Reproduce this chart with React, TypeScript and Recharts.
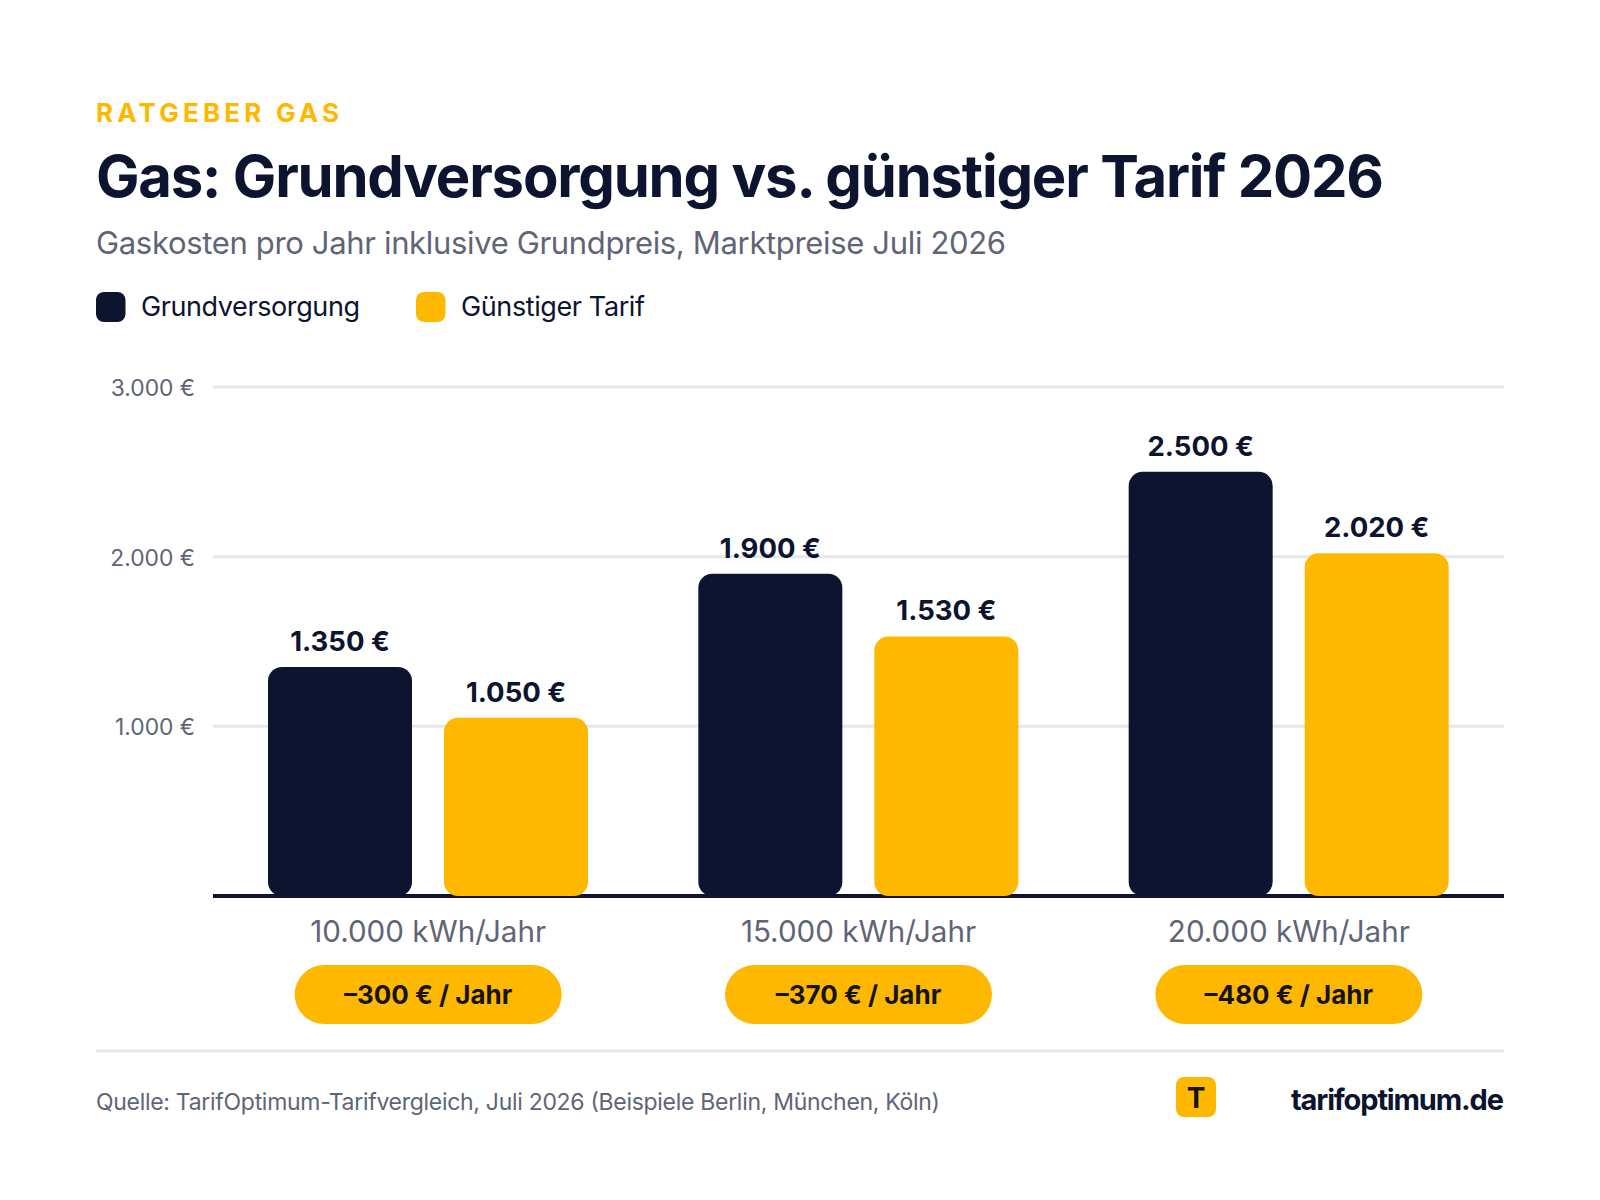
import React from 'react';
import { Bar, BarChart, CartesianGrid, LabelList, XAxis, YAxis } from 'recharts';

const categories = ['10.000 kWh/Jahr', '15.000 kWh/Jahr', '20.000 kWh/Jahr'];
const grundversorgung = [1350, 1900, 2500];
const guenstigerTarif = [1050, 1530, 2020];
const savings = ['–300 € / Jahr', '–370 € / Jahr', '–480 € / Jahr'];
const yTicks = [0, 1000, 2000, 3000];

const NAVY = '#0C1430';
const YELLOW = '#FFB800';
const GRAY = '#5F6577';
const LINE = '#E5E7EB';
const FONT = 'Inter, sans-serif';

const data = categories.map((name, i) => ({
  name,
  grund: grundversorgung[i],
  tarif: guenstigerTarif[i],
}));

const euro = (v: number) => `${v.toLocaleString('de-DE')} €`;

// category name plus the savings pill under it
const CategoryTick = ({ x, y, payload, index }: any) => (
  <g>
    <text x={x} y={y + 44} textAnchor="middle" fontSize={29.6} fill={GRAY} fontFamily={FONT}>
      {payload.value}
    </text>
    <rect x={x - 133.5} y={y + 67} width={267} height={59} rx={29.5} fill={YELLOW} />
    <text x={x} y={y + 106} textAnchor="middle" fontSize={26} fontWeight={700} fill="#14130F" fontFamily={FONT}>
      {savings[index]}
    </text>
  </g>
);

const YTick = ({ x, y, payload }: any) =>
  payload.value === 0 ? null : (
    <text x={x} y={y + 9} textAnchor="end" fontSize={22.8} fill={GRAY} fontFamily={FONT}>
      {euro(payload.value)}
    </text>
  );

export default function App() {
  return (
    <div style={{ position: 'absolute', left: 0, top: 0, width: 1600, height: 1200, background: '#fff', fontFamily: FONT }}>
      <svg width={1600} height={1200} style={{ position: 'absolute', left: 0, top: 0 }}>
        <text x={96} y={122} fontSize={26} fontWeight={700} fill={YELLOW} textLength={243}>RATGEBER GAS</text>
        <text x={96} y={197} fontSize={58} fontWeight={700} fill={NAVY} textLength={1288}>
          Gas: Grundversorgung vs. günstiger Tarif 2026
        </text>
        <text x={96} y={254} fontSize={31} fill={GRAY} textLength={910}>
          Gaskosten pro Jahr inklusive Grundpreis, Marktpreise Juli 2026
        </text>

        <rect x={96} y={292} width={29.5} height={30} rx={8} fill={NAVY} />
        <text x={141} y={316} fontSize={27} fill={NAVY} textLength={219}>Grundversorgung</text>
        <rect x={416} y={292} width={29.5} height={30} rx={8} fill={YELLOW} />
        <text x={461} y={316} fontSize={27} fill={NAVY} textLength={184}>Günstiger Tarif</text>

        <rect x={96} y={1049.5} width={1408} height={3} fill={LINE} />
        <text x={96} y={1110} fontSize={23} fill={GRAY} textLength={844}>
          Quelle: TarifOptimum-Tarifvergleich, Juli 2026 (Beispiele Berlin, München, Köln)
        </text>
        <rect x={1176} y={1077} width={40} height={40} rx={8} fill={YELLOW} />
        <text x={1196} y={1108} textAnchor="middle" fontSize={28} fontWeight={700} fill="#14130F">T</text>
        <text x={1291} y={1110} fontSize={29} fontWeight={700} fill={NAVY} textLength={213}>tarifoptimum.de</text>
      </svg>

      <div style={{ position: 'absolute', left: 0, top: 0 }}>
        <BarChart
          width={1600}
          height={1200}
          data={data}
          barSize={144}
          barGap={32}
          margin={{ top: 387, right: 96, bottom: 164, left: 96 }}
        >
          <CartesianGrid vertical={false} stroke={LINE} strokeWidth={3} />
          <XAxis
            dataKey="name"
            height={140}
            interval={0}
            tickLine={false}
            tickSize={0}
            zIndex={100}
            axisLine={{ stroke: NAVY, strokeWidth: 4 }}
            tick={<CategoryTick />}
          />
          <YAxis
            width={117}
            domain={[0, 3000]}
            ticks={yTicks}
            axisLine={false}
            tickLine={false}
            tickSize={0}
            tickMargin={18}
            tick={<YTick />}
          />
          <Bar dataKey="grund" name="Grundversorgung" fill={NAVY} radius={14} isAnimationActive={false}>
            <LabelList dataKey="grund" position="top" offset={16} formatter={euro} fontSize={27.5} fontWeight={700} fill={NAVY} fontFamily={FONT} />
          </Bar>
          <Bar dataKey="tarif" name="Günstiger Tarif" fill={YELLOW} radius={14} isAnimationActive={false}>
            <LabelList dataKey="tarif" position="top" offset={16} formatter={euro} fontSize={27.5} fontWeight={700} fill={NAVY} fontFamily={FONT} />
          </Bar>
        </BarChart>
      </div>
    </div>
  );
}
